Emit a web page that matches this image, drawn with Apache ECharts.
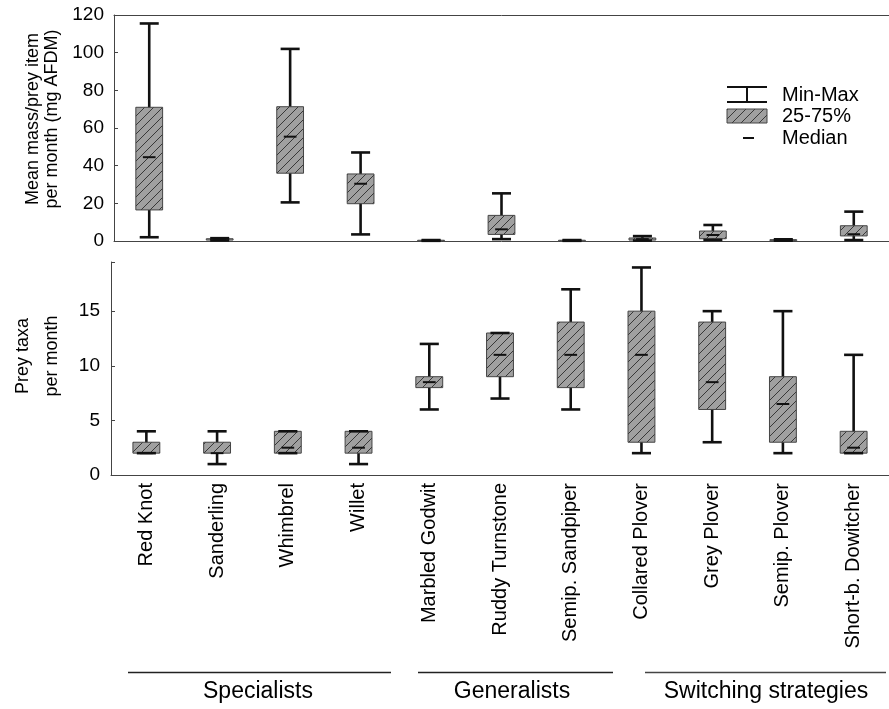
<!DOCTYPE html>
<html>
<head>
<meta charset="utf-8">
<script src="https://cdn.jsdelivr.net/npm/echarts@6/dist/echarts.min.js"></script>
<style>
html, body { margin: 0; padding: 0; background: #fff; }
#main { width: 889px; height: 709px; }
</style>
</head>
<body>
<div id="main"></div>
<script>
var categories = ['Red Knot', 'Sanderling', 'Whimbrel', 'Willet', 'Marbled Godwit', 'Ruddy Turnstone',
	'Semip. Sandpiper', 'Collared Plover', 'Grey Plover', 'Semip. Plover', 'Short-b. Dowitcher'];

//上图：每月平均每件猎物质量 (mg AFDM)
var massMin = [2, 0.3, 20.5, 3.5, 0.1, 1, 0.1, 0.2, 0.6, 0.2, 0.5];
var massQ1 = [16.5, 0.5, 36, 19.8, 0.2, 3.5, 0.2, 0.5, 1.2, 0.3, 2.7];
var massMed = [44.5, 0.8, 55.4, 30.4, 0.3, 6.2, 0.3, 1.0, 3.2, 0.5, 3.6];
var massQ3 = [71, 1.2, 71.3, 35.6, 0.4, 13.6, 0.4, 1.6, 5.3, 0.7, 8.1];
var massMax = [115.5, 1.5, 102, 47, 0.5, 25.3, 0.5, 2.6, 8.5, 0.9, 15.6];
var massTicks = { min: 0, max: 120, interval: 20 };

//下图：每月猎物类群数
var taxaMin = [2, 1, 2, 1, 6, 7, 6, 2, 3, 2, 2];
var taxaQ1 = [2, 2, 2, 2, 8, 9, 8, 3, 6, 3, 2];
var taxaMed = [2, 2, 2.5, 2.5, 8.5, 11, 11, 11, 8.5, 6.5, 2.5];
var taxaQ3 = [3, 3, 4, 4, 9, 13, 14, 15, 14, 9, 4];
var taxaMax = [4, 4, 4, 4, 12, 13, 17, 19, 15, 15, 11];
var taxaTicks = { min: 0, max: 19.5, interval: 5 };

var groups = ['Specialists', 'Generalists', 'Switching strategies'];
var legendNames = ['Min-Max', '25-75%', 'Median'];

var FONT = '"Liberation Sans", Arial, sans-serif';

//斜线填充
function makeHatch() {
	var p = 9;
	var c = document.createElement('canvas');
	c.width = p; c.height = p;
	var g = c.getContext('2d');
	g.fillStyle = '#a0a0a0';
	g.fillRect(0, 0, p, p);
	g.strokeStyle = '#383838';
	g.lineWidth = 1;
	g.beginPath();
	g.moveTo(0, p); g.lineTo(p, 0);
	g.moveTo(-1, 1); g.lineTo(1, -1);
	g.moveTo(p - 1, p + 1); g.lineTo(p + 1, p - 1);
	g.stroke();
	return c;
}
var hatch = { image: makeHatch(), repeat: 'repeat' };

function buildData(a, b, c, d, e) {
	return categories.map(function (name, i) {
		return [i, a[i], b[i], c[i], d[i], e[i]];
	});
}

function renderBox(params, api) {
	var idx = api.value(0);
	var pMin = api.coord([idx, api.value(1)]);
	var pQ1 = api.coord([idx, api.value(2)]);
	var pMed = api.coord([idx, api.value(3)]);
	var pQ3 = api.coord([idx, api.value(4)]);
	var pMax = api.coord([idx, api.value(5)]);
	var band = api.size([1, 0])[0];
	var x = pMed[0];
	var bw = band * 0.38, cw = band * 0.27, mw = band * 0.18;
	var ink = { stroke: '#111', lineWidth: 2.6 };
	return {
		type: 'group',
		children: [
			{ type: 'line', shape: { x1: x, y1: pMax[1], x2: x, y2: pMin[1] }, style: ink },
			{ type: 'rect', shape: { x: x - bw / 2, y: pQ3[1], width: bw, height: Math.max(pQ1[1] - pQ3[1], 1) },
				style: { fill: hatch, stroke: '#444', lineWidth: 1 } },
			{ type: 'line', shape: { x1: x - cw / 2, y1: pMax[1], x2: x + cw / 2, y2: pMax[1] }, style: ink },
			{ type: 'line', shape: { x1: x - cw / 2, y1: pMin[1], x2: x + cw / 2, y2: pMin[1] }, style: ink },
			{ type: 'line', shape: { x1: x - mw / 2, y1: pMed[1], x2: x + mw / 2, y2: pMed[1] }, style: { stroke: '#111', lineWidth: 2 } }
		]
	};
}

var axisLine = { lineStyle: { color: '#444', width: 1 } };
var tickIn = { inside: true, length: 4, lineStyle: { color: '#444' } };

var chart = echarts.init(document.getElementById('main'), null, { renderer: 'canvas' });

var option = {
	animation: false,
	backgroundColor: '#fff',
	grid: [
		{ left: 114, top: 15, width: 784, height: 226 },
		{ left: 111, top: 262, width: 783, height: 213 }
	],
	xAxis: [
		{ type: 'category', gridIndex: 0, data: categories, axisLine: axisLine, axisTick: tickIn, axisLabel: { show: false } },
		{ type: 'category', gridIndex: 0, position: 'top', data: categories, axisLine: axisLine, axisTick: tickIn, axisLabel: { show: false } },
		{
			type: 'category', gridIndex: 1, data: categories, axisLine: axisLine, axisTick: tickIn,
			axisLabel: { rotate: 90, interval: 0, margin: 8, fontSize: 20, fontFamily: FONT, color: '#000' }
		}
	],
	yAxis: [
		{
			type: 'value', gridIndex: 0, min: massTicks.min, max: massTicks.max, interval: massTicks.interval,
			axisLine: { show: true, lineStyle: { color: '#444' } }, axisTick: { show: true, inside: true, length: 4, lineStyle: { color: '#444' } },
			splitLine: { show: false },
			axisLabel: { fontSize: 19, fontFamily: FONT, color: '#000', margin: 10 }
		},
		{
			type: 'value', gridIndex: 1, min: taxaTicks.min, max: taxaTicks.max, interval: taxaTicks.interval,
			axisLine: { show: true, lineStyle: { color: '#444' } }, axisTick: { show: true, inside: true, length: 4, lineStyle: { color: '#444' } },
			splitLine: { show: false },
			axisLabel: {
				fontSize: 19, fontFamily: FONT, color: '#000', margin: 11,
				formatter: function (v) { return v % taxaTicks.interval === 0 ? String(v) : ''; }
			}
		}
	],
	series: [
		{
			type: 'custom', xAxisIndex: 0, yAxisIndex: 0, renderItem: renderBox,
			encode: { x: 0, y: [1, 2, 3, 4, 5] },
			data: buildData(massMin, massQ1, massMed, massQ3, massMax)
		},
		{
			type: 'custom', xAxisIndex: 2, yAxisIndex: 1, renderItem: renderBox,
			encode: { x: 0, y: [1, 2, 3, 4, 5] },
			data: buildData(taxaMin, taxaQ1, taxaMed, taxaQ3, taxaMax)
		}
	],
	graphic: [
		//纵轴标题
		{ type: 'text', x: 33, y: 119, rotation: Math.PI / 2, style: { text: 'Mean mass/prey item', font: '18px ' + FONT, fill: '#000', align: 'center', verticalAlign: 'middle' } },
		{ type: 'text', x: 52, y: 119, rotation: Math.PI / 2, style: { text: 'per month (mg AFDM)', font: '18px ' + FONT, fill: '#000', align: 'center', verticalAlign: 'middle' } },
		{ type: 'text', x: 23, y: 356, rotation: Math.PI / 2, style: { text: 'Prey taxa', font: '18px ' + FONT, fill: '#000', align: 'center', verticalAlign: 'middle' } },
		{ type: 'text', x: 52, y: 356, rotation: Math.PI / 2, style: { text: 'per month', font: '18px ' + FONT, fill: '#000', align: 'center', verticalAlign: 'middle' } },
		//图例
		{ type: 'line', shape: { x1: 727, y1: 87, x2: 767, y2: 87 }, style: { stroke: '#111', lineWidth: 2 } },
		{ type: 'line', shape: { x1: 747, y1: 87, x2: 747, y2: 102 }, style: { stroke: '#111', lineWidth: 2 } },
		{ type: 'line', shape: { x1: 727, y1: 102, x2: 767, y2: 102 }, style: { stroke: '#111', lineWidth: 2 } },
		{ type: 'rect', shape: { x: 727, y: 109, width: 40, height: 14 }, style: { fill: hatch, stroke: '#444', lineWidth: 1 } },
		{ type: 'line', shape: { x1: 743, y1: 138, x2: 754, y2: 138 }, style: { stroke: '#111', lineWidth: 2 } },
		{ type: 'text', x: 782, y: 95, style: { text: legendNames[0], font: '20px ' + FONT, fill: '#000', verticalAlign: 'middle' } },
		{ type: 'text', x: 782, y: 116.5, style: { text: legendNames[1], font: '20px ' + FONT, fill: '#000', verticalAlign: 'middle' } },
		{ type: 'text', x: 782, y: 138.5, style: { text: legendNames[2], font: '20px ' + FONT, fill: '#000', verticalAlign: 'middle' } },
		//分组
		{ type: 'line', shape: { x1: 128, y1: 672.5, x2: 391, y2: 672.5 }, style: { stroke: '#222', lineWidth: 1.5 } },
		{ type: 'line', shape: { x1: 418, y1: 672.5, x2: 613, y2: 672.5 }, style: { stroke: '#222', lineWidth: 1.5 } },
		{ type: 'line', shape: { x1: 645, y1: 672.5, x2: 886, y2: 672.5 }, style: { stroke: '#444', lineWidth: 1.5 } },
		{ type: 'text', x: 258, y: 692, style: { text: groups[0], font: '23px ' + FONT, fill: '#000', align: 'center', verticalAlign: 'middle' } },
		{ type: 'text', x: 512, y: 692, style: { text: groups[1], font: '23px ' + FONT, fill: '#000', align: 'center', verticalAlign: 'middle' } },
		{ type: 'text', x: 766, y: 692, style: { text: groups[2], font: '23px ' + FONT, fill: '#000', align: 'center', verticalAlign: 'middle' } }
	]
};
chart.setOption(option);
</script>
</body>
</html>
